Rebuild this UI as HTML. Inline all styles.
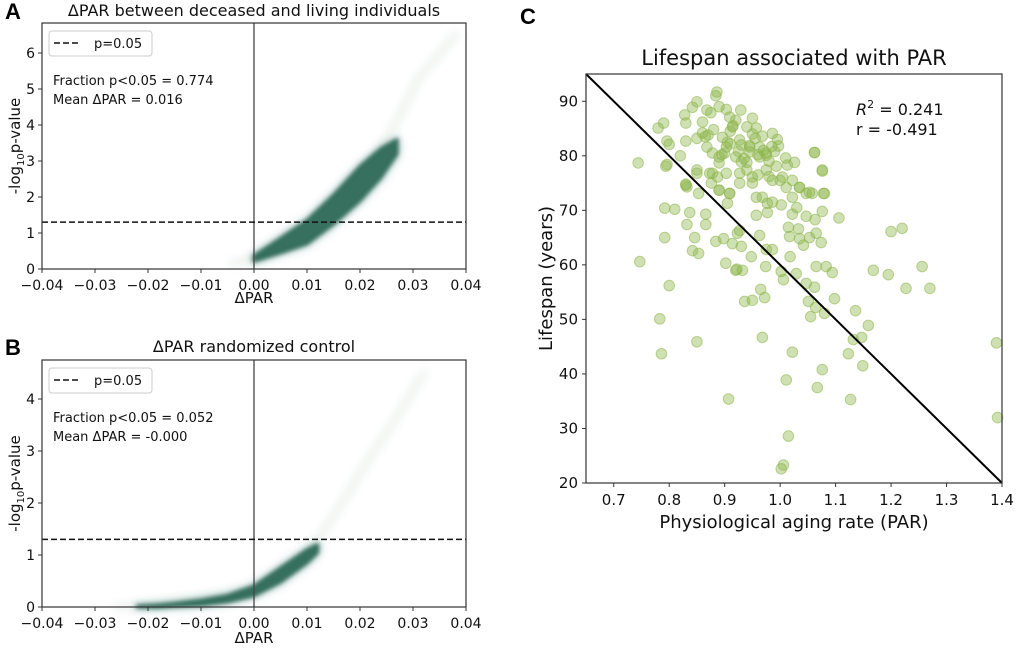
<!DOCTYPE html>
<html><head><meta charset="utf-8">
<style>
html,body{margin:0;padding:0;background:#fff;}
svg{display:block;font-family:"DejaVu Sans","Liberation Sans",sans-serif;}
</style></head>
<body>
<svg id="fig" width="1020" height="651" viewBox="0 0 1020 651" xmlns="http://www.w3.org/2000/svg">
<defs>
<filter id="blur2" x="-20%" y="-20%" width="140%" height="140%"><feGaussianBlur stdDeviation="2"/></filter>
<filter id="blur5" x="-20%" y="-20%" width="140%" height="140%"><feGaussianBlur stdDeviation="4"/></filter>
</defs>
<g id="panelA"></g>
<g id="panelB"></g>
<g id="panelC"></g>
</svg>
<script>
// ---- Panel A data ----
const aXTicks = [-0.04,-0.03,-0.02,-0.01,0.00,0.01,0.02,0.03,0.04];
const aYTicks = [0,1,2,3,4,5,6];
const aCloudX = [0.000,0.005,0.010,0.015,0.020,0.024,0.027];
const aCloudLow = [0.22,0.45,0.70,1.25,1.90,2.55,3.2];
const aCloudHigh = [0.36,0.85,1.35,2.05,2.85,3.35,3.6];
const aTailX = [-0.004,0.000,0.010,0.020,0.025,0.028,0.031,0.038];
const aTailY = [0.15,0.3,1.0,2.4,3.6,4.4,5.3,6.5];
// ---- Panel B data ----
const bXTicks = [-0.04,-0.03,-0.02,-0.01,0.00,0.01,0.02,0.03,0.04];
const bYTicks = [0,1,2,3,4];
const bCloudX = [-0.022,-0.018,-0.015,-0.010,-0.005,0.000,0.005,0.010,0.012];
const bCloudLow = [0.00,0.00,0.02,0.04,0.10,0.22,0.48,0.85,1.05];
const bCloudHigh = [0.02,0.04,0.07,0.13,0.22,0.40,0.75,1.10,1.2];
const bTailX = [-0.026,-0.02,0.000,0.010,0.013,0.016,0.019,0.022,0.026,0.032];
const bTailY = [0.0,0.02,0.3,1.0,1.45,1.9,2.4,2.9,3.5,4.5];
const pThresh = 1.30103;
// ---- Panel C data ----
const cXTicks = [0.7,0.8,0.9,1.0,1.1,1.2,1.3,1.4];
const cYTicks = [20,30,40,50,60,70,80,90];
const cPar = [0.886,0.884,0.85,0.842,0.828,0.83,0.78,0.79,0.796,0.80,0.744,0.794,0.82,0.83,0.85,0.86,0.868,0.875,0.89,0.903,0.909,0.929,0.95,0.957,0.968,0.995,0.997,0.986,1.062,1.076,1.078,1.026,1.013,0.993,0.975,0.95,0.927,0.903,0.878,0.876,0.89,0.909,0.83,0.85,0.903,0.89,0.92,0.945,0.963,0.975,0.945,0.927,0.896,0.878,0.868,0.914,0.94,0.963,1.0,1.011,1.035,1.047,1.058,1.022,
0.796,0.792,0.81,0.837,0.866,0.832,0.866,0.792,0.846,0.884,0.898,0.914,0.93,0.842,0.853,0.747,0.902,0.922,0.963,0.948,0.975,0.986,1.018,0.923,0.927,0.83,0.832,0.853,0.85,0.873,0.887,0.89,0.909,0.905,0.927,0.94,0.95,0.957,0.968,0.977,0.986,1.002,0.957,0.977,1.004,0.986,1.022,1.035,1.022,1.047,1.063,1.076,1.106,1.076,1.062,1.08,1.053,1.015,1.033,1.042,1.053,1.065,1.074,1.035,1.017,
0.8,0.783,0.786,0.85,0.907,0.92,0.932,0.936,0.95,0.965,0.972,0.968,0.974,1.002,1.006,1.029,1.022,1.011,1.015,1.006,1.002,1.065,1.083,1.094,1.047,1.062,1.051,1.064,1.055,1.08,1.098,1.076,1.067,1.127,1.136,1.159,1.147,1.132,1.123,1.149,1.168,1.195,1.227,1.256,1.27,1.39,1.392,1.2,1.22,
0.91,0.93,0.96,0.98,0.87,0.90,0.94,0.92,0.95,0.97,0.88,0.86,0.99,1.01,0.93,0.91,0.96,0.89,0.98,1.03,
0.905,0.925,0.945,0.935,0.915,0.955,0.975,0.985,0.865,0.895];
const cLife = [91.7,91,89.9,88.9,87.5,86,85.1,86,82.7,82.1,78.7,78.1,80,82.7,83.2,84.2,88.4,87.9,89,88.5,87.1,88.4,86.9,85.1,83.6,83,81.8,84.1,80.6,77.2,73.1,78.8,78.3,78.1,77.4,76.1,76.8,76.8,76.8,75,73.7,73.1,74.8,77.4,81.6,79.8,79.8,80.7,79.8,80.5,81.6,82.9,83.4,80.5,81.6,85.3,85.3,81.6,75.5,74.2,74.2,73.1,73.1,75.5,
78.4,70.4,70.2,69.6,69.3,67.4,67.4,65,65,64.3,64.8,63.9,63.4,62.6,62.1,60.6,60.3,59.2,65.4,61.5,62.8,62.8,61.5,65.8,66.3,74.6,74.3,73.1,76.8,76.8,76.1,73.7,73.1,71.3,75,77.4,75,72.4,72.4,71.3,71.5,71,69.1,69.6,76.1,75.5,72.4,74.2,69.3,68.9,68.3,69.8,68.6,77.4,80.6,73.1,73.3,66.9,66.6,63.6,65,65.8,64.1,64.8,65.2,
56.2,50.1,43.7,45.9,35.4,59,59,53.3,53.5,55.5,54,46.7,59.7,58.8,57.3,58.4,44,38.9,28.6,23.3,22.6,59.7,59.7,58.6,56.6,55.9,53.3,52.2,50.5,51.1,53.8,40.8,37.5,35.3,51.6,48.9,46.7,46.3,43.7,41.5,59,58.2,55.7,59.7,55.7,45.7,32,66.1,66.7,
84.5,82,80.2,79,83.8,80.5,78.8,86.5,84,81,84.8,86.2,80.8,79.6,78.9,82.2,76.5,78.7,76.2,70.5,
82.5,80.8,81.9,79.5,85.5,83.2,80.1,81.7,83.5,80.2];
const fitX = [0.65,1.4];
const fitY = [95,20];

const NS='http://www.w3.org/2000/svg';
function mk(tag,attrs,parent,text){const e=document.createElementNS(NS,tag);for(const k in attrs)e.setAttribute(k,attrs[k]);if(text!==undefined)e.textContent=text;parent.appendChild(e);return e;}
function lin(d0,d1,r0,r1){return v=>r0+(v-d0)*(r1-r0)/(d1-d0);}

function volcano(g, box, xT, yT, yMax, cloudX, lo, hi, tailX, tailY, title, label, frac, mean, titleY, labelY){
  const X=lin(-0.04,0.04,box.l,box.r), Y=lin(0,yMax,box.b,box.t);
  let pts=tailX.map((x,i)=>X(x)+','+Y(tailY[i])).join(' ');
  const tail=mk('polyline',{points:pts,fill:'none',stroke:'#2e6a58','stroke-width':7,'stroke-opacity':0.09,'stroke-linecap':'round','stroke-linejoin':'round',filter:'url(#blur5)'},g);
  
  
  let poly=cloudX.map((x,i)=>X(x)+','+Y(hi[i])).join(' ')+' '+cloudX.slice().reverse().map((x,i)=>X(x)+','+Y(lo[cloudX.length-1-i])).join(' ');
  const halo=mk('polygon',{points:poly,fill:'#2e6a58','fill-opacity':0.2,stroke:'#2e6a58','stroke-opacity':0.2,'stroke-width':8,'stroke-linejoin':'round',filter:'url(#blur5)'},g);
  
  
  const band=mk('polygon',{points:poly,fill:'#2e6a58','fill-opacity':0.95,stroke:'#2e6a58','stroke-width':3,'stroke-linejoin':'round',filter:'url(#blur2)'},g);
  
  
  const z=mk('line',{x1:X(0),x2:X(0),y1:box.t,y2:box.b,stroke:'#444','stroke-width':1.3},g);
  
  
  const th=mk('line',{x1:box.l,x2:box.r,y1:Y(pThresh),y2:Y(pThresh),stroke:'#111','stroke-width':1.5,'stroke-dasharray':'6,3'},g);
  
  
  const fr=mk('rect',{x:box.l,y:box.t,width:box.r-box.l,height:box.b-box.t,fill:'none',stroke:'#333','stroke-width':1.2},g);
  
  
  xT.forEach(v=>{
    mk('line',{x1:X(v),x2:X(v),y1:box.b,y2:box.b+4,stroke:'#333'},g);
    const t=mk('text',{x:X(v),y:box.b+21,'text-anchor':'middle','font-size':14,fill:'#111'},g,(v<0?'\u2212':'')+Math.abs(v).toFixed(2));
    
    
  });
  yT.forEach(v=>{
    mk('line',{x1:box.l-4,x2:box.l,y1:Y(v),y2:Y(v),stroke:'#333'},g);
    const t=mk('text',{x:box.l-7,y:Y(v)+5,'text-anchor':'end','font-size':14,fill:'#111'},g,String(v));
    
    
  });
  const tt=mk('text',{x:(box.l+box.r)/2,y:titleY,'text-anchor':'middle','font-size':16,fill:'#111'},g,title);
  
  
  const pl=mk('text',{x:5,y:titleY+3,'font-size':22,'font-weight':'bold','font-family':'Liberation Sans, sans-serif',fill:'#000'},g,label);
  
  
  const xl=mk('text',{x:(box.l+box.r)/2,y:labelY,'text-anchor':'middle','font-size':15,fill:'#111'},g,'\u0394PAR');
  
  
  const yl=mk('text',{transform:`translate(20,${(box.t+box.b)/2}) rotate(-90)`,'text-anchor':'middle','font-size':15,fill:'#111'},g);
  
  
  mk('tspan',{},yl,'-log');mk('tspan',{'font-size':10,dy:4},yl,'10');mk('tspan',{dy:-4},yl,'p-value');
  const lg=mk('g',{},g);
  
  
  mk('rect',{x:box.l+7,y:box.t+8,width:103,height:25,rx:3,fill:'#fff',stroke:'#ccc'},lg);
  mk('line',{x1:box.l+12,x2:box.l+38,y1:box.t+20,y2:box.t+20,stroke:'#111','stroke-width':1.5,'stroke-dasharray':'6,3'},lg);
  const lt=mk('text',{x:box.l+52,y:box.t+25,'font-size':13,fill:'#111'},lg,'p=0.05');
  
  
  const f=mk('text',{x:box.l+11,y:box.t+62,'font-size':13,fill:'#111'},g,frac);
  
  
  const m=mk('text',{x:box.l+11,y:box.t+81,'font-size':13,fill:'#111'},g,mean);
  
  
}
volcano(document.getElementById('panelA'),{l:42,r:466,t:23,b:269},aXTicks,aYTicks,(269-23)/36,aCloudX,aCloudLow,aCloudHigh,aTailX,aTailY,
 '\u0394PAR between deceased and living individuals','A','Fraction p<0.05 = 0.774','Mean \u0394PAR = 0.016',16,303);
volcano(document.getElementById('panelB'),{l:42,r:466,t:360,b:607},bXTicks,bYTicks,(607-360)/52,bCloudX,bCloudLow,bCloudHigh,bTailX,bTailY,
 '\u0394PAR randomized control','B','Fraction p<0.05 = 0.052','Mean \u0394PAR = -0.000',352,643);

(function(){
  const g=document.getElementById('panelC');
  const box={l:586,r:1002,t:74,b:483};
  const X=lin(0.65,1.4,box.l,box.r), Y=lin(20,95,box.b,box.t);
  cPar.forEach((p,i)=>{
    const c=mk('circle',{cx:X(p),cy:Y(cLife[i]),r:5.3,fill:'#8cb44a','fill-opacity':0.42,stroke:'#8cb44a','stroke-opacity':0.55,'stroke-width':1},g);
    
    
  });
  const fl=mk('line',{x1:X(fitX[0]),y1:Y(fitY[0]),x2:X(fitX[1]),y2:Y(fitY[1]),stroke:'#000','stroke-width':2},g);
  
  
  const fr=mk('rect',{x:box.l,y:box.t,width:box.r-box.l,height:box.b-box.t,fill:'none',stroke:'#333','stroke-width':1.2},g);
  
  
  cXTicks.forEach(v=>{
    mk('line',{x1:X(v),x2:X(v),y1:box.b,y2:box.b+4,stroke:'#333'},g);
    const t=mk('text',{x:X(v),y:box.b+22,'text-anchor':'middle','font-size':15,fill:'#111'},g,v.toFixed(1));
    
    
  });
  cYTicks.forEach(v=>{
    mk('line',{x1:box.l-4,x2:box.l,y1:Y(v),y2:Y(v),stroke:'#333'},g);
    const t=mk('text',{x:box.l-8,y:Y(v)+5,'text-anchor':'end','font-size':15,fill:'#111'},g,String(v));
    
    
  });
  const tt=mk('text',{x:(box.l+box.r)/2,y:65,'text-anchor':'middle','font-size':21,fill:'#111'},g,'Lifespan associated with PAR');
  
  
  const pl=mk('text',{x:520,y:24,'font-size':22,'font-weight':'bold','font-family':'Liberation Sans, sans-serif',fill:'#000'},g,'C');
  
  
  const xl=mk('text',{x:(box.l+box.r)/2,y:528,'text-anchor':'middle','font-size':18,fill:'#111'},g,'Physiological aging rate (PAR)');
  
  
  const yl=mk('text',{transform:`translate(552,${(box.t+box.b)/2}) rotate(-90)`,'text-anchor':'middle','font-size':18,fill:'#111'},g,'Lifespan (years)');
  
  
  const r2=mk('text',{x:856,y:115,'font-size':16,fill:'#111'},g);
  
  
  mk('tspan',{'font-style':'italic'},r2,'R');mk('tspan',{'font-size':11,dy:-7},r2,'2');mk('tspan',{dy:7},r2,' = 0.241');
  const rr=mk('text',{x:856,y:135,'font-size':16,fill:'#111'},g,'r = -0.491');
  
  
})();
</script>
</body></html>
